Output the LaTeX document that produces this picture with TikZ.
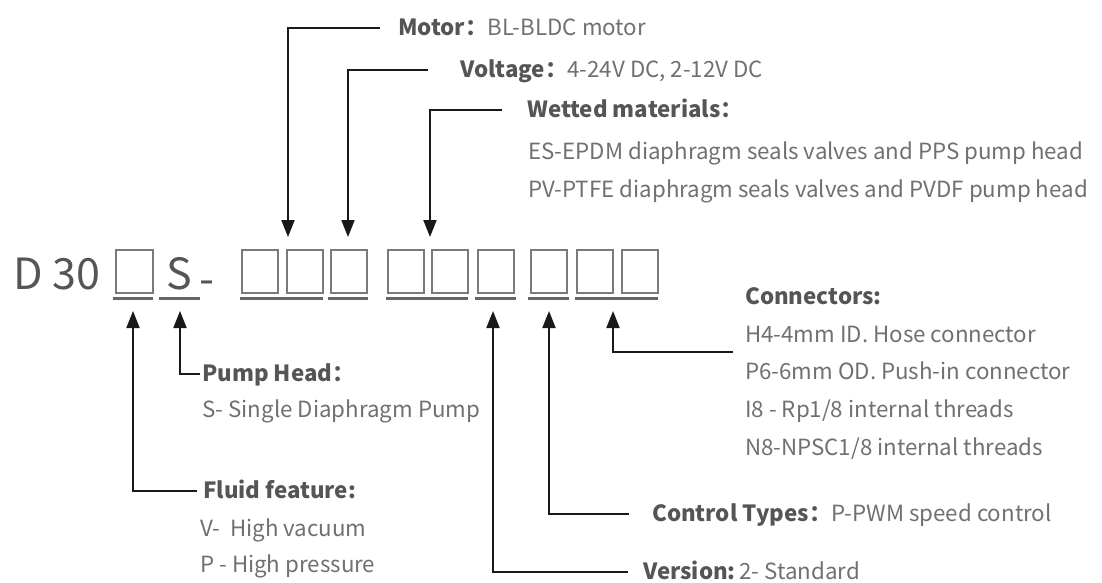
\documentclass[tikz,border=0pt]{standalone}
\usepackage{fontspec}
\setmainfont{Noto Sans CJK SC}
\usetikzlibrary{arrows.meta}
\definecolor{txtc}{HTML}{707070}
\definecolor{ttlc}{HTML}{555555}
\definecolor{boxc}{HTML}{7A7A7A}
\definecolor{ulc}{HTML}{666666}
\begin{document}
\begin{tikzpicture}[x=1pt,y=-1pt,
  lbl/.style={anchor=west, inner sep=0pt, text height=15pt, text depth=0pt, text=txtc, font=\fontsize{22.3}{26}\selectfont},
  code/.style={anchor=base west, inner sep=0pt, text=ttlc, font=\fontsize{43}{48}\selectfont},
  cbox/.style={draw=boxc, line width=2.2pt, minimum width=36pt, minimum height=43pt, inner sep=0pt, anchor=north west},
  uline/.style={draw=ulc, line width=3pt},
  arr/.style={draw=black!90, line width=2pt, -{Triangle[width=13pt,length=17pt]}},
]
\useasboundingbox (0,0) rectangle (1102,583);
% code line
\node[code] (d30) at (13,289) {D 30};
\node[cbox, minimum width=37pt] (b0) at (115,249) {};
\node[code] (s) at (166,289) {S};
\node[code] (dash) at (199,294) {-};
\node[cbox] (b1) at (241,249) {};
\node[cbox] (b2) at (286,249) {};
\node[cbox] (b3) at (330,249) {};
\node[cbox] (b4) at (387,249) {};
\node[cbox] (b5) at (431,249) {};
\node[cbox] (b6) at (477,249) {};
\node[cbox] (b7) at (530,249) {};
\node[cbox] (b8) at (576,249) {};
\node[cbox] (b9) at (621,249) {};
% underlines
\draw[uline] (113,298) -- (153,298);
\draw[uline] (159,298) -- (200,298);
\draw[uline] (240,298) -- (323,298);
\draw[uline] (328,298) -- (368,298);
\draw[uline] (386,298) -- (468,298);
\draw[uline] (475,298) -- (516,298);
\draw[uline] (528,298) -- (569,298);
\draw[uline] (575,298) -- (658,298);
% arrow tips
\coordinate (tM) at (288,237);
\coordinate (tV) at (348,237);
\coordinate (tW) at (430,237);
\coordinate (tF) at (133,311);
\coordinate (tP) at (180,311);
\coordinate (tVe) at (493,311);
\coordinate (tC) at (549,311);
\coordinate (tK) at (613,311);
\coordinate (cj) at (733,352);
% top labels
\node[lbl] (motor) at (398,28) {{\bfseries\color{ttlc}Motor：}BL-BLDC motor};
\node[lbl] (volt) at (460,70) {{\bfseries\color{ttlc}Voltage：}4-24V DC, 2-12V DC};
\node[lbl] (wet) at (527,110) {{\bfseries\color{ttlc}Wetted materials：}};
\node[lbl] (es) at (528,152) {ES-EPDM diaphragm seals valves and PPS pump head};
\node[lbl] (pv) at (528,190) {PV-PTFE diaphragm seals valves and PVDF pump head};
% bottom-left labels
\node[lbl] (ph) at (202,374) {{\bfseries\color{ttlc}Pump Head：}};
\node[lbl] (ss) at (202,410) {S- Single Diaphragm Pump};
\node[lbl] (ff) at (203,491) {{\bfseries\color{ttlc}Fluid feature:}};
\node[lbl] (vv) at (200,529) {V-\ \ High vacuum};
\node[lbl] (pp) at (200,565) {P - High pressure};
% bottom-right labels
\node[lbl] (con) at (745,297) {{\bfseries\color{ttlc}Connectors:}};
\node[lbl] (h4) at (745,335) {H4-4mm ID. Hose connector};
\node[lbl] (p6) at (745,372) {P6-6mm OD. Push-in connector};
\node[lbl] (i8) at (745,410) {I8 - Rp1/8 internal threads};
\node[lbl] (n8) at (745,448) {N8-NPSC1/8 internal threads};
\node[lbl] (ct) at (652,514) {{\bfseries\color{ttlc}Control Types：}P-PWM speed control};
\node[lbl] (ver) at (643,572) {{\bfseries\color{ttlc}Version:}\,2- Standard};
% connectors
\draw[arr, shorten <=18pt] (motor.west) -| (tM);
\draw[arr, shorten <=32pt] (volt.west) -| (tV);
\draw[arr, shorten <=25pt] (wet.west) -| (tW);
\draw[arr, shorten <=2pt] (ph.west) -| (tP);
\draw[arr, shorten <=6pt] (ff.west) -| (tF);
\draw[arr, shorten <=15pt] (ver.west) -| (tVe);
\draw[arr, shorten <=23pt] (ct.west) -| (tC);
\draw[arr] (cj) -| (tK);
\end{tikzpicture}
\end{document}
